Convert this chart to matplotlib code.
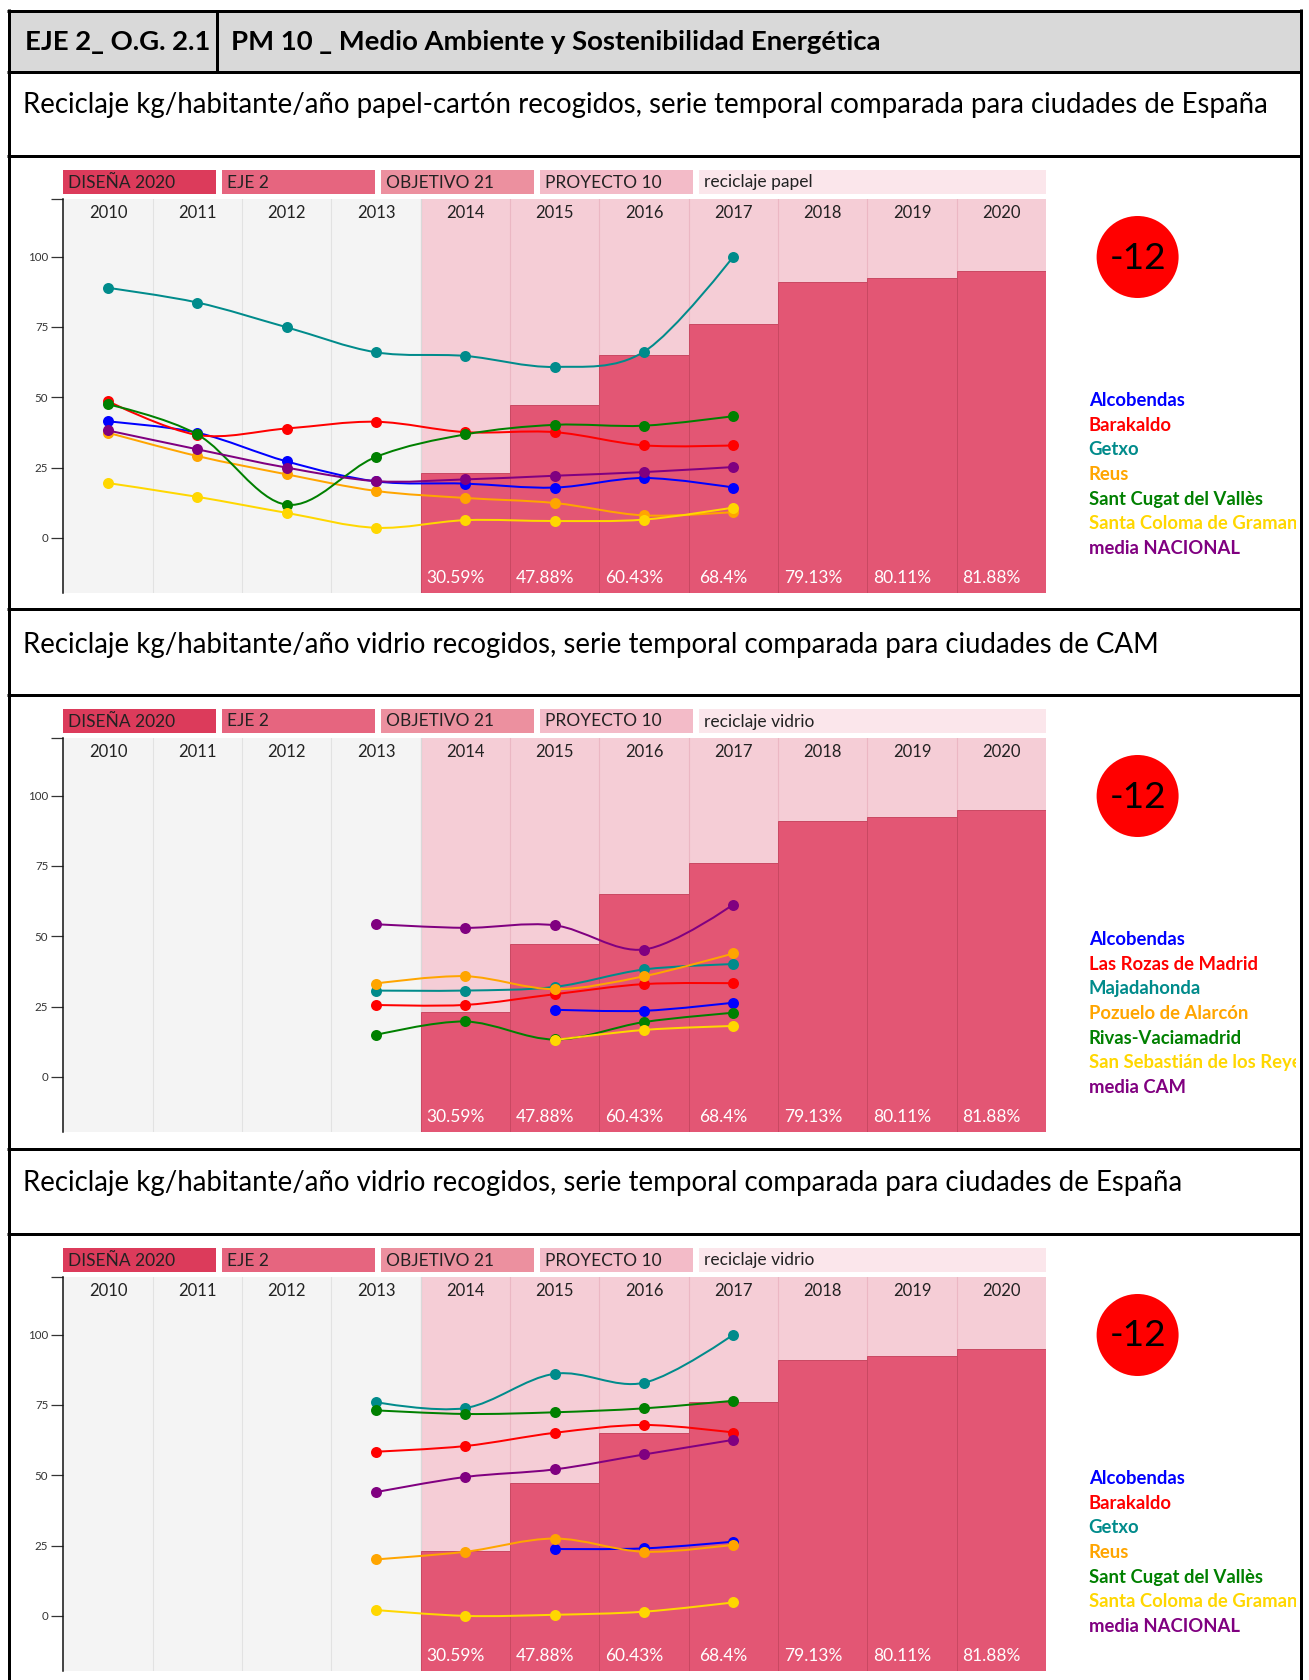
import numpy as np
import matplotlib
matplotlib.use("Agg")
import matplotlib.pyplot as plt
from matplotlib.path import Path
from matplotlib.patches import PathPatch, Rectangle, Ellipse

# ---------------------------------------------------------------- data
years = [2010, 2011, 2012, 2013, 2014, 2015, 2016, 2017, 2018, 2019, 2020]
data_years = [2010, 2011, 2012, 2013, 2014, 2015, 2016, 2017]
target_years = [2014, 2015, 2016, 2017, 2018, 2019, 2020]
target_pct = [30.59, 47.88, 60.43, 68.4, 79.13, 80.11, 81.88]

banner_labels = ["DISEÑA 2020", "EJE 2", "OBJETIVO 21", "PROYECTO 10"]
topics = ["reciclaje papel", "reciclaje vidrio", "reciclaje vidrio"]

header_left = "EJE 2_ O.G. 2.1"
header_right = "PM 10 _ Medio Ambiente y Sostenibilidad Energética"
titles = [
    "Reciclaje kg/habitante/año papel-cartón recogidos, serie temporal comparada para ciudades de España",
    "Reciclaje kg/habitante/año vidrio recogidos, serie temporal comparada para ciudades de CAM",
    "Reciclaje kg/habitante/año vidrio recogidos, serie temporal comparada para ciudades de España",
]
score_label = "-12"

cities_espana = ["Alcobendas", "Barakaldo", "Getxo", "Reus", "Sant Cugat del Vallès",
                 "Santa Coloma de Gramanet", "media NACIONAL"]
cities_cam = ["Alcobendas", "Las Rozas de Madrid", "Majadahonda", "Pozuelo de Alarcón",
              "Rivas-Vaciamadrid", "San Sebastián de los Reyes", "media CAM"]
series_colors = ["#0000ff", "#ff0000", "#008b8b", "#ffa500", "#008000", "#ffd700", "#800080"]

N = None
# papel-cartón, España (kg/hab/año), 2010-2017
papel_alcobendas = [41.4, 37.4, 27.2, 20.1, 19.3, 17.9, 21.3, 17.9]
papel_barakaldo = [48.6, 36.6, 38.9, 41.3, 37.6, 37.6, 32.9, 32.9]
papel_getxo = [88.9, 83.7, 74.9, 66.0, 64.7, 60.8, 66.2, 100.0]
papel_reus = [37.4, 29.1, 22.6, 16.7, 14.2, 12.4, 8.0, 9.2]
papel_santcugat = [47.5, 36.8, 11.8, 28.8, 36.8, 40.2, 39.9, 43.3]
papel_santacoloma = [19.5, 14.6, 8.9, 3.6, 6.3, 6.0, 6.5, 10.8]
papel_media = [38.2, 31.5, 25.0, 20.2, 20.8, 22.1, 23.4, 25.2]

# vidrio, CAM
cam_alcobendas = [N, N, N, N, N, 23.9, 23.5, 26.4]
cam_lasrozas = [N, N, N, 25.6, 25.6, 29.4, 33.0, 33.3]
cam_majadahonda = [N, N, N, 30.7, 30.7, 32.0, 38.2, 40.1]
cam_pozuelo = [N, N, N, 33.2, 35.8, 31.2, 35.8, 43.9]
cam_rivas = [N, N, N, 14.9, 19.7, 13.3, 19.5, 22.8]
cam_sansebastian = [N, N, N, N, N, 13.1, 16.7, 18.1]
cam_media = [N, N, N, 54.3, 53.0, 53.9, 45.3, 61.3]

# vidrio, España
vid_alcobendas = [N, N, N, N, N, 23.8, 24.0, 26.4]
vid_barakaldo = [N, N, N, 58.4, 60.4, 65.1, 67.9, 65.2]
vid_getxo = [N, N, N, 76.0, 73.9, 86.1, 82.9, 100.0]
vid_reus = [N, N, N, 20.1, 22.8, 27.5, 22.8, 25.3]
vid_santcugat = [N, N, N, 73.1, 71.8, 72.4, 73.8, 76.5]
vid_santacoloma = [N, N, N, 2.1, 0.0, 0.4, 1.5, 4.8]
vid_media = [N, N, N, 44.0, 49.4, 52.1, 57.4, 62.6]

panels = [
    (cities_espana, [papel_alcobendas, papel_barakaldo, papel_getxo, papel_reus,
                     papel_santcugat, papel_santacoloma, papel_media]),
    (cities_cam, [cam_alcobendas, cam_lasrozas, cam_majadahonda, cam_pozuelo,
                  cam_rivas, cam_sansebastian, cam_media]),
    (cities_espana, [vid_alcobendas, vid_barakaldo, vid_getxo, vid_reus,
                     vid_santcugat, vid_santacoloma, vid_media]),
]

# ---------------------------------------------------------------- layout
W, H, DPI = 1309, 1680, 100
PX = 72.0 / DPI          # points per pixel
PANEL_STEP = 539
FONT = "Lato"

fig = plt.figure(figsize=(W / DPI, H / DPI), dpi=DPI)
fig.patch.set_facecolor("white")
renderer = fig.canvas.get_renderer()


def fig_rect(x0, y0, x1, y1):
    return [x0 / W, 1 - y1 / H, (x1 - x0) / W, (y1 - y0) / H]


def fit_size(sample, width_px, weight="normal"):
    t = fig.text(0, 0, sample, fontsize=20, family=FONT, weight=weight)
    w = t.get_window_extent(renderer).width
    t.remove()
    return 20 * width_px / w


fs_header = fit_size(header_right, 650, "bold")
fs_title = fit_size(titles[2], 1160)
fs_year = fit_size("2010", 36) * 1.07
fs_banner = fit_size("DISEÑA 2020", 99) * 1.08
fs_pct = fit_size("30.59%", 54) * 1.08
fs_tick = fit_size("100", 20)
fs_legend = fit_size("Alcobendas", 96, "bold")
fs_score = fit_size(score_label, 54) * 1.05

# page canvas in pixel units
page = fig.add_axes([0, 0, 1, 1])
page.set_xlim(0, W)
page.set_ylim(H, 0)
page.axis("off")
page.set_zorder(0)

LEFT, RIGHT = 8.5, 1300.5
page.add_patch(Rectangle((LEFT, 10.5), RIGHT - LEFT, 72 - 10.5, color="#d9d9d9", lw=0))
bw = 3 * PX
for yy in [10.5, 72, 156, 609.2, 694.5, 1148.8, 1233.5]:
    page.plot([LEFT - 1.5, RIGHT + 1.5], [yy, yy], color="black", lw=bw, solid_capstyle="butt")
for xx in [LEFT, RIGHT]:
    page.plot([xx, xx], [9, H], color="black", lw=bw, solid_capstyle="butt")
page.plot([217, 217], [10.5, 72], color="black", lw=bw)

page.text(25, 50, header_left, fontsize=fs_header, family=FONT, weight="bold",
          va="baseline", ha="left", color="black")
page.text(231, 50, header_right, fontsize=fs_header, family=FONT, weight="bold",
          va="baseline", ha="left", color="black")

for k, ttl in enumerate(titles):
    page.text(22.7, 113.5 + k * PANEL_STEP, ttl, fontsize=fs_title, family=FONT,
              va="baseline", ha="left", color="black")

banner_x = [(63.3, 216), (221.7, 375), (381, 534), (540, 693), (699, 1046)]
banner_colors = ["#dc3b5b", "#e6657f", "#ec909f", "#f3bbc8", "#fbe6eb"]


def cardinal_path(xs, ys):
    """Cardinal spline (tension 0) through the points, as cubic Bezier segments."""
    p = np.column_stack([xs, ys]).astype(float)
    n = len(p)
    verts = [p[0]]
    codes = [Path.MOVETO]
    if n == 1:
        return Path(verts, codes)
    k = 1.0 / 6.0
    for i in range(n - 1):
        p1, p2 = p[i], p[i + 1]
        c1 = p1 if i == 0 else p1 + k * (p2 - p[i - 1])
        c2 = p2 if i + 2 >= n else p2 - k * (p[i + 2] - p1)
        verts += [c1, c2, p2]
        codes += [Path.CURVE4] * 3
    return Path(verts, codes)


YMIN, YMAX = -19.7, 120.4

for k, (names, series) in enumerate(panels):
    off = k * PANEL_STEP
    # banner
    for (x0, x1), col, lab in zip(banner_x, banner_colors, banner_labels + [topics[k]]):
        page.add_patch(Rectangle((x0, 170 + off), x1 - x0, 24.3, color=col, lw=0))
        page.text(x0 + 5, 182.5 + off, lab, fontsize=fs_banner, family=FONT,
                  va="center", ha="left", color="#222222")

    rect = fig_rect(63.3, 199.3 + off, 1046, 593.3 + off)
    # background, target bars and year labels
    axb = fig.add_axes(rect)
    axb.set_zorder(1)
    axb.set_xlim(years[0] - 0.5, years[-1] + 0.5)
    axb.set_ylim(0, 100)
    axb.set_facecolor("#f4f4f4")
    for s in axb.spines.values():
        s.set_visible(False)
    axb.set_xticks([])
    axb.set_yticks([])
    axb.axvspan(target_years[0] - 0.5, years[-1] + 0.5, color="#f5cdd6", lw=0, zorder=0.5)
    for b in years[:-1]:
        c = "#e2e2e2" if b < target_years[0] - 1 else "#ebb7c3"
        axb.axvline(b + 0.5, color=c, lw=0.8, zorder=0.6)
    axb.axvline(target_years[0] - 0.5, color="#d9d9d9", lw=0.8, zorder=0.7)
    axb.bar(target_years, target_pct, width=1.0, color="#e35674", edgecolor="#c94862",
            lw=0.7, zorder=1)
    for yr, v in zip(target_years, target_pct):
        axb.annotate(f"{v}%", xy=(yr - 0.11, 0), xycoords=("data", "axes fraction"),
                     xytext=(0, 15 * PX), textcoords="offset points",
                     ha="center", va="center", color="white", fontsize=fs_pct, family=FONT)
    for yr in years:
        axb.annotate(str(yr), xy=(yr, 1), xycoords=("data", "axes fraction"),
                     xytext=(0, -14 * PX), textcoords="offset points",
                     ha="center", va="center", color="#222222", fontsize=fs_year, family=FONT)

    # series lines
    ax = fig.add_axes(rect)
    ax.set_zorder(2)
    ax.patch.set_alpha(0)
    ax.set_xlim(years[0] - 0.5, years[-1] + 0.5)
    ax.set_ylim(YMIN, YMAX)
    for side in ["top", "right", "bottom"]:
        ax.spines[side].set_visible(False)
    ax.spines["left"].set_linewidth(1.1)
    ax.spines["left"].set_color("#111111")
    ax.set_xticks([])
    ax.set_yticks([0, 25, 50, 75, 100])
    ax.set_yticks([YMAX], minor=True)
    ax.tick_params(axis="y", which="both", length=12 * PX, width=0.9, color="#333333",
                   pad=3 * PX, labelsize=fs_tick, labelcolor="#333333")
    ax.tick_params(axis="y", which="minor", labelleft=False)
    for lab in ax.get_yticklabels():
        lab.set_family(FONT)

    for i, (vals, col) in enumerate(zip(series, series_colors)):
        xs = [y for y, v in zip(data_years, vals) if v is not None]
        ys = [v for v in vals if v is not None]
        ax.add_patch(PathPatch(cardinal_path(xs, ys), fill=False, edgecolor=col,
                               lw=2 * PX, zorder=3 + 2 * i, capstyle="round"))
        ax.plot(xs, ys, "o", color=col, ms=11 * PX, mew=0, zorder=4 + 2 * i, clip_on=False)

    # score badge and legend (legend names run into the frame edge and are clipped there)
    axl = fig.add_axes(fig_rect(1060, 158 + off, 1296, 607 + off))
    axl.set_zorder(1)
    axl.set_xlim(1060, 1296)
    axl.set_ylim(607 + off, 158 + off)
    axl.axis("off")
    axl.add_patch(Ellipse((1137.6, 257 + off), 82, 82, color="#ff0000", lw=0))
    axl.text(1137.6, 258 + off, score_label, fontsize=fs_score, family=FONT,
             ha="center", va="center", color="black")
    for i, (name, col) in enumerate(zip(names, series_colors)):
        axl.text(1088.7, 400.7 + 24.6 * i + off, name, fontsize=fs_legend, family=FONT,
                 weight="bold", color=col, ha="left", va="center", clip_on=True)

fig.savefig("out.png", dpi=DPI)
